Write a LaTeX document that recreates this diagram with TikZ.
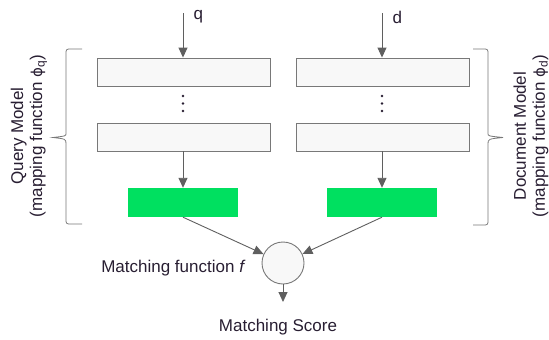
\documentclass[tikz,border=0pt]{standalone}
\usepackage{fontspec}
\setmainfont{Liberation Sans}
\newfontfamily\symfont{DejaVu Sans}
\usetikzlibrary{arrows.meta}
\definecolor{linegrey}{RGB}{95,95,95}
\definecolor{boxedge}{RGB}{120,120,120}
\definecolor{boxfill}{RGB}{248,248,248}
\definecolor{layergreen}{RGB}{0,224,96}
\definecolor{inkdark}{RGB}{40,30,50}
\newcommand{\phisym}{{\symfont\fontsize{15}{17}\selectfont ϕ}}
\tikzset{
  x=1pt, y=-1pt,
  every node/.style={font=\fontsize{17}{19}\selectfont, text=inkdark},
  layerbox/.style={draw=boxedge, fill=boxfill, line width=0.9pt, minimum width=173pt, minimum height=28pt, inner sep=0pt},
  outbox/.style={fill=layergreen, minimum width=110pt, minimum height=29pt, inner sep=0pt},
  matchnode/.style={circle, draw=boxedge, fill=boxfill, line width=0.9pt, minimum size=42pt, inner sep=0pt},
  flow/.style={draw=linegrey, line width=0.9pt, -{Triangle[length=10pt,width=9pt]}},
  groupbrace/.style={draw=boxedge, line width=0.8pt, rounded corners=2.5pt},
  vdot/.style={circle, fill=inkdark, inner sep=0pt, minimum size=2.6pt},
}
\begin{document}
\begin{tikzpicture}
\useasboundingbox (0,0) rectangle (549,340);

% query tower
\node[layerbox] (qa) at (183.5,72) {};
\node[layerbox] (qb) at (183.5,137) {};
\node[outbox]   (qg) at (183,202.5) {};
% document tower
\node[layerbox] (da) at (382.5,72) {};
\node[layerbox] (db) at (382.5,137) {};
\node[outbox]   (dg) at (382,202.5) {};

% inputs
\coordinate (qin) at (183,13);
\coordinate (din) at (382,13);
\node[anchor=west] (qlab) at (190,17) {q};
\node[anchor=west] (dlab) at (389,17) {d};
\draw[flow] (qin) -- (qa.north -| qin);
\draw[flow] (din) -- (da.north -| din);

% elided layers
\foreach \t/\xx in {q/183, d/382} {
  \node[vdot] (\t d1) at (\xx,96) {};
  \node[vdot] (\t d2) at (\xx,103.5) {};
  \node[vdot] (\t d3) at (\xx,111) {};
}

\draw[flow] (qb.south -| qg.north) -- (qg.north);
\draw[flow] (db.south -| dg.north) -- (dg.north);

% matching
\node[matchnode] (m) at (283,263) {};
\draw[flow] (qg.south) -- (m);
\draw[flow] (dg.south) -- (m);
\node[anchor=east] (mf) at (249,268) {Matching function \textit{f}};
\coordinate (mout) at (283,302);
\draw[flow] (m.south) -- (mout);
\node (score) at (278,327) {Matching Score};

% model braces
\draw[groupbrace] (82,49) -- (66,49) -- (66,131)
  [sharp corners] .. controls (66,136) .. (53,137.5)
  .. controls (66,139) .. (66,144)
  [rounded corners=2.5pt] -- (66,224) -- (82,224);
\draw[groupbrace] (473,49) -- (488,49) -- (488,131)
  [sharp corners] .. controls (488,136) .. (503,137.5)
  .. controls (488,139) .. (488,144)
  [rounded corners=2.5pt] -- (488,225) -- (473,225);
\node[rotate=90, align=center] (qmodel) at (29,136) {Query Model\\(mapping function \phisym\textsubscript{q})};
\node[rotate=90, align=center] (dmodel) at (531,136) {Document Model\\(mapping function \phisym\textsubscript{d})};
\end{tikzpicture}
\end{document}
